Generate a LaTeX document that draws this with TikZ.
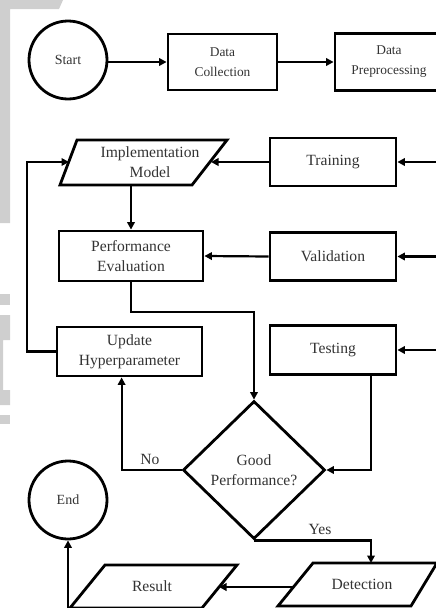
\documentclass[tikz,border=0pt]{standalone}
\usepackage{fontspec}
\setmainfont{Liberation Serif}
\usetikzlibrary{arrows.meta,shapes.geometric,calc}
\definecolor{txtc}{HTML}{333333}
\definecolor{bgray}{HTML}{CFCFCF}
\begin{document}
\begin{tikzpicture}[x=1pt,y=-1pt,
  mainf/.style={font=\fontsize{15.6pt}{20pt}\selectfont, text=txtc},
  smallf/.style={font=\fontsize{13.4pt}{20pt}\selectfont, text=txtc},
  box/.style={draw=black, line width=2.8pt, rectangle, minimum width=126pt, minimum height=48pt, align=center, inner sep=0pt, mainf},
  circ/.style={draw=black, line width=2.8pt, circle, minimum size=78pt, inner sep=0pt, font=\fontsize{14pt}{17pt}\selectfont, text=txtc},
  dia/.style={draw=black, line width=2.8pt, diamond, minimum width=142pt, minimum height=138pt, inner sep=0pt, align=center, mainf},
  para/.style={draw=black, line width=2.8pt, line join=miter},
  txt/.style={align=center, inner sep=0pt, mainf},
  arr/.style={draw=black, line width=2.2pt, -{Triangle[length=7.5pt,width=7.5pt]}},
  conn/.style={draw=black, line width=2.2pt}
]
\useasboundingbox (0,0) rectangle (436,608);
\clip (0,0) rectangle (436,608);
% background watermark shapes
\fill[bgray] (0,0) -- (63,0) -- (59,9) -- (10,9) -- (10,223) -- (0,223) -- cycle;
\fill[bgray] (0,294) rectangle (10,305);
\fill[bgray] (0,315) -- (10,315) -- (10,340) -- (3,340) -- (3,390) -- (10,390) -- (10,405) -- (0,405) -- cycle;
\fill[bgray] (0,415) rectangle (10,424);

% top row
\node[circ] (start) at (68,60) {Start};
\node[box, smallf, minimum width=109pt, minimum height=56pt] (coll) at (222.5,62) {Data\\Collection};
\node[box, smallf, minimum width=108pt, minimum height=57pt] (prep) at (389,62) {Data\\Preprocessing};
\draw[arr] (start.east |- coll.west) -- (coll.west);
\draw[arr] (coll.east) -- (prep.west);

% implementation model (parallelogram)
\draw[para] (77,140) -- (227,140) -- (192,185) -- (60,185) -- cycle;
\node[txt] (impl) at (150,162) {Implementation\\Model};
\coordinate (implR) at (211,162);
\coordinate (implL) at (69,162);
\coordinate (implB) at (131,185);

\node[box] (train) at (333,162) {Training};
\node[box, minimum width=144pt, minimum height=50pt] (perf) at (131,256) {Performance\\Evaluation};
\node[box] (valid) at (333,256.5) {Validation};
\node[box, minimum width=145pt, minimum height=49pt] (upd) at (129.5,351.5) {Update\\Hyperparameter};
\node[box, minimum height=49pt] (test) at (333,350) {Testing};

\coordinate (inT) at (437,162);
\coordinate (inV) at (437,256.5);
\coordinate (inS) at (437,350);
\draw[arr] (inT) -- (train.east);
\draw[arr] (inV) -- (valid.east);
\draw[arr] (inS) -- (test.east);

\draw[arr] (train.west) -- (implR);
\draw[arr] (valid.west) -- (perf.east);
\draw[arr] (implB) -- (perf.north);

% decision
\node[dia] (dec) at (254,470) {Good\\Performance?};
\draw[arr] (perf.south) -- (131,312) -| (dec.north);
\draw[arr] ($(test.south)+(38,0)$) |- (dec.east);
\draw[arr] (dec.west) -| ($(upd.south west)+(66,0)$);
\node[txt] (no) at (150,459) {No};
\draw[arr] (upd.west) -- ++(-29,0) |- (implL);

% bottom
\node[circ] (end) at (68,500) {End};
\draw[para] (313,563) -- (437,563) -- (411,606) -- (278,606) -- cycle;
\node[txt] (det) at (362,584) {Detection};
\coordinate (detT) at (371,563);
\coordinate (detL) at (293,587);
\draw[para] (105,565) -- (237,565) -- (202,608) -- (70,608) -- cycle;
\node[txt] (res) at (152,586) {Result};
\coordinate (resR) at (219,587);
\coordinate (resBL) at (68,609);

\draw[arr] (dec.south) -| (detT);
\node[txt] (yes) at (320,529) {Yes};
\draw[arr] (detL) -- (resR);
\draw[arr] (resBL) -- (end.south);
\end{tikzpicture}
\end{document}
